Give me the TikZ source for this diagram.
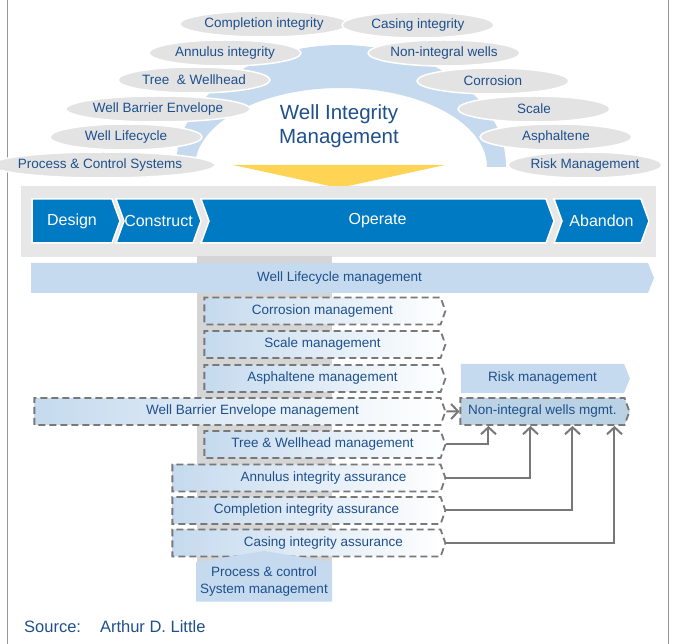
\documentclass[tikz,border=0pt]{standalone}
\usepackage{fontspec}
\setmainfont{Liberation Sans}
\usepackage{tikz}
\usetikzlibrary{arrows.meta,positioning,shapes.geometric,shapes.symbols,calc}
\definecolor{witext}{RGB}{30,80,140}
\definecolor{wiphase}{RGB}{0,122,194}
\definecolor{wiring}{RGB}{197,218,238}
\definecolor{wioval}{RGB}{227,227,227}
\definecolor{wiband}{RGB}{231,231,231}
\definecolor{wicol}{RGB}{213,213,213}
\definecolor{wiline}{RGB}{120,120,120}
\definecolor{winonint}{RGB}{186,210,228}
\definecolor{wiyellow}{RGB}{255,212,84}
\definecolor{wiframe}{RGB}{150,150,150}
\tikzset{
  oval/.style={ellipse, draw=white, line width=1.5pt, fill=wioval, minimum width=152pt, minimum height=26pt, inner sep=0pt, text=witext, font=\fontsize{13.5}{15}\selectfont},
  phase/.style={signal, signal to=east, signal from=west, signal pointer angle=140, draw=white, line width=1.5pt, fill=wiphase, text=white, minimum height=44pt, inner sep=0pt, font=\fontsize{16}{17}\selectfont},
  bar/.style={signal, signal to=east, signal pointer angle=136, fill=wiring, text=witext, minimum height=30pt, inner sep=0pt, font=\fontsize{13.5}{15}\selectfont},
  dashbox/.style={signal, signal to=east, signal pointer angle=141, draw=wiline, dash pattern=on 7pt off 4pt, line width=1.8pt, left color=wiring, right color=white, minimum height=27pt, inner sep=0pt, text=witext, font=\fontsize{13.5}{15}\selectfont},
  arrow/.style={-{Straight Barb[length=7pt,width=15pt,line width=2pt]}, line width=2pt, draw=wiline}
}
\begin{document}
\begin{tikzpicture}[x=1pt, y=-1pt]
\useasboundingbox (0,0) rectangle (673,644);
\draw[wiframe, line width=1pt] (7,0) -- (7,644) (668,0) -- (668,644);
% the arch and its topics
\fill[wiring] (176,167) arc[start angle=180, end angle=0, x radius=165pt, y radius=122pt] -- (487,167) arc[start angle=0, end angle=180, x radius=146pt, y radius=79pt] -- cycle;
\node[oval] (t1) at (264,24) {Completion integrity};
\node[oval] (t2) at (418,25) {Casing integrity};
\node[oval] (t3) at (225,53) {Annulus integrity};
\node[oval] (t4) at (444,53) {Non-integral wells};
\node[oval] (t5) at (194,80) {Tree~ \& Wellhead};
\node[oval] (t6) at (493,81) {Corrosion};
\node[oval] (t7) at (158,109) {Well Barrier Envelope};
\node[oval] (t8) at (534,109) {Scale};
\node[oval] (t9) at (126,137) {Well Lifecycle};
\node[oval] (t10) at (556,137) {Asphaltene};
\node[oval, minimum width=164pt] (t11) at (103,165) {\hspace*{-6pt}Process \& Control Systems};
\node[oval] (t12) at (585,165) {Risk Management};
\node[text=witext, align=center, font=\fontsize{20.5}{23.5}\selectfont] (wim) at (339,126) {Well Integrity\\Management};
\fill[wiyellow] (233,165) -- (445,165) -- (339,188) -- cycle;
% lifecycle phases
\fill[wiband] (21,186) rectangle (656,257);
\node[phase, signal from=nowhere, minimum width=88pt] (design) at (72,221) {Design};
\node[phase, minimum width=85pt] (construct) at (158.5,221) {Construct};
\node[phase, minimum width=353pt] (operate) at (377.5,221) {Operate};
\node[phase, minimum width=95pt] (abandon) at (601.5,221) {Abandon};
\fill[wicol] (197,256) rectangle (332,570);
\node[bar, minimum width=623pt] (lifecycle) at (339.5,278) {Well Lifecycle management};
% management activities
\node[dashbox, minimum width=241pt] (corrosion) at (322.5,311) {Corrosion management};
\node[dashbox, minimum width=241pt] (scale) at (322.5,344.5) {Scale management};
\node[dashbox, minimum width=241pt] (asphaltene) at (322.5,378.5) {Asphaltene management};
\node[dashbox, minimum width=411pt] (barrier) at (237.5,411.5) {\hspace*{30pt}Well Barrier Envelope management};
\node[dashbox, minimum width=241pt] (tree) at (322.5,444.5) {Tree \& Wellhead management};
\node[dashbox, minimum width=273pt] (annulus) at (306.5,478) {\hspace*{34pt}Annulus integrity assurance};
\node[dashbox, minimum width=273pt] (completion) at (306.5,510.5) {Completion integrity assurance};
\node[dashbox, minimum width=273pt] (casing) at (306.5,543) {\hspace*{34pt}Casing integrity assurance};
\node[bar, minimum width=169pt, minimum height=29pt] (risk) at (542.5,378.5) {Risk management};
\node[dashbox, left color=winonint, right color=winonint, minimum width=169pt] (nonint) at (542.5,411.5) {Non-integral wells mgmt.};
\node[signal, signal to=north, signal pointer angle=161, fill=wiring, minimum width=136pt, minimum height=50pt, inner sep=0pt, align=center, text=witext, font=\fontsize{13.5}{17}\selectfont] (pcs) at (264,582) {Process \& control\\System management};
\draw[arrow] (barrier) -- (nonint);
\draw[arrow] (tree.east) -| ([xshift=29pt]nonint.south west);
\draw[arrow] (annulus.east) -| ([xshift=71pt]nonint.south west);
\draw[arrow] (completion.east) -| ([xshift=113pt]nonint.south west);
\draw[arrow] (casing.east) -| ([xshift=155pt]nonint.south west);
\node[anchor=base west, inner sep=0pt, text=witext, font=\fontsize{16.5}{19}\selectfont] (source) at (24,632) {Source:\hspace{19pt}Arthur D. Little};
\end{tikzpicture}
\end{document}
